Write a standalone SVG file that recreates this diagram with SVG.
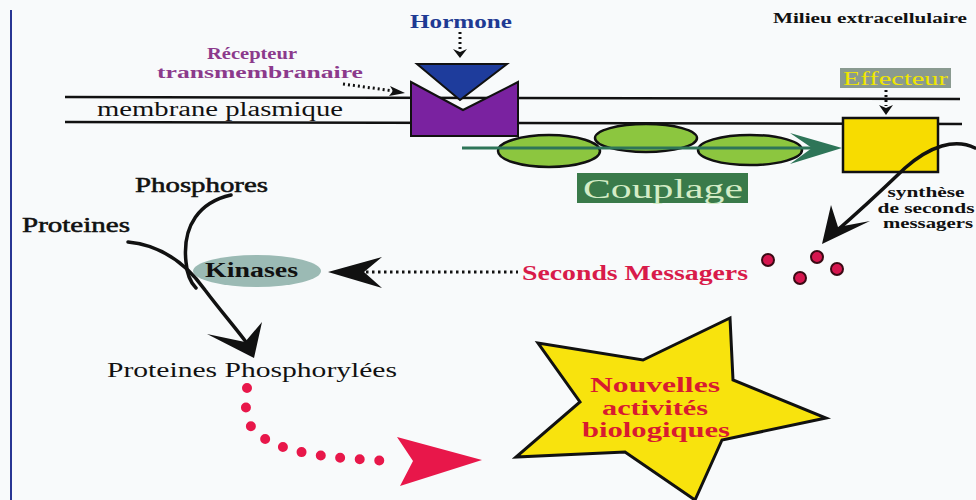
<svg xmlns="http://www.w3.org/2000/svg" width="976" height="500" viewBox="0 0 976 500">
<style>
.t{font-family:"Liberation Serif","Times New Roman",serif;}
.b{font-weight:bold;}
.blk{fill:#111;}
.semi{stroke:#111;stroke-width:0.5;}
.mem{stroke:#111;stroke-width:2.5;fill:none;}
.dot{stroke:#111;stroke-width:3;stroke-dasharray:2 3;fill:none;}
.ell{fill:#8cc63f;stroke:#111;stroke-width:2.5;}
.rd{fill:#d6164f;stroke:#3a0a14;stroke-width:2;}
.curve{stroke:#111;stroke-width:3.5;fill:none;stroke-linecap:round;}
</style>
<rect width="976" height="500" fill="#f8fafb"/>
<line x1="11" y1="10" x2="11" y2="500" stroke="#283593" stroke-width="2"/>

<g id="milieu"><text class="t b blk" x="773" y="23" font-size="14" textLength="194" lengthAdjust="spacingAndGlyphs">Milieu extracellulaire</text></g>

<g id="membrane">
<line class="mem" x1="65" y1="97" x2="960" y2="99"/>
<line class="mem" x1="65" y1="122" x2="962" y2="124"/>
<text class="t blk" x="97" y="116" font-size="20" textLength="246" lengthAdjust="spacingAndGlyphs">membrane plasmique</text>
</g>

<g id="hormone">
<text class="t b" x="410" y="28" font-size="18" fill="#1f3a93" textLength="102" lengthAdjust="spacingAndGlyphs">Hormone</text>
<path d="M417,64 L507,64 L460,100 Z" fill="#1e3c9c" stroke="#111" stroke-width="2"/>
</g>

<g id="recepteur">
<text class="t b" x="207" y="59" font-size="17" fill="#8c3a8c" textLength="90" lengthAdjust="spacingAndGlyphs">Récepteur</text>
<text class="t b" x="157" y="78" font-size="17" fill="#8c3a8c" textLength="206" lengthAdjust="spacingAndGlyphs">transmembranaire</text>
<path d="M411,82 L463,110 L518,82 L518,136 L411,136 Z" fill="#7a22a0" stroke="#111" stroke-width="2"/>
</g>

<g id="couplage">
<ellipse class="ell" cx="549" cy="151" rx="51" ry="16"/>
<ellipse class="ell" cx="750" cy="150" rx="52" ry="15"/>
<ellipse class="ell" cx="646" cy="138" rx="51" ry="14"/>
<rect x="577" y="173" width="171" height="30" fill="#3a7a4a"/>
<text class="t" x="583" y="198" font-size="27" fill="#d4ecc6" textLength="160" lengthAdjust="spacingAndGlyphs">Couplage</text>
</g>

<g id="effecteur">
<rect x="840" y="68" width="111" height="20" fill="#8a9a90"/>
<text class="t" x="843" y="85" font-size="19" fill="#f0e600" textLength="105" lengthAdjust="spacingAndGlyphs">Effecteur</text>
<rect x="843" y="118" width="95" height="54" fill="#f7dc00" stroke="#111" stroke-width="2.5"/>
</g>

<g id="synthese">
<text class="t b blk" x="926" y="197" font-size="14" text-anchor="middle" textLength="77" lengthAdjust="spacingAndGlyphs">synthèse</text>
<text class="t b blk" x="926" y="213" font-size="14" text-anchor="middle" textLength="97" lengthAdjust="spacingAndGlyphs">de seconds</text>
<text class="t b blk" x="928" y="228" font-size="14" text-anchor="middle" textLength="90" lengthAdjust="spacingAndGlyphs">messagers</text>
</g>

<g id="seconds-messagers">
<circle class="rd" cx="768" cy="260" r="6"/>
<circle class="rd" cx="817" cy="257" r="6"/>
<circle class="rd" cx="837" cy="269" r="6"/>
<circle class="rd" cx="800" cy="278" r="6"/>
<text class="t b" x="522" y="280" font-size="20" fill="#d81b4a" textLength="226" lengthAdjust="spacingAndGlyphs">Seconds Messagers</text>
</g>

<g id="kinases">
<ellipse cx="257" cy="271" rx="64" ry="16" fill="#9bbab4"/>
<text class="t b blk" x="205" y="277" font-size="20" textLength="93" lengthAdjust="spacingAndGlyphs">Kinases</text>
</g>

<g id="phosphores"><text class="t blk semi" x="135" y="192" font-size="20" textLength="133" lengthAdjust="spacingAndGlyphs">Phosphores</text></g>
<g id="proteines"><text class="t blk semi" x="22" y="232" font-size="20" textLength="108" lengthAdjust="spacingAndGlyphs">Proteines</text></g>
<g id="proteines-phosphorylees"><text class="t blk" x="107" y="377" font-size="20" textLength="290" lengthAdjust="spacingAndGlyphs">Proteines Phosphorylées</text></g>

<g id="nouvelles-activites">
<polygon points="730,318 733,380 826,418 722,440 695,500 625,452 516,457 580,402 538,343 643,360" fill="#f8e30d" stroke="#111" stroke-width="3" stroke-linejoin="miter"/>
<text class="t b" x="590" y="392" font-size="20" fill="#d81b30" textLength="130" lengthAdjust="spacingAndGlyphs">Nouvelles</text>
<text class="t b" x="602" y="415" font-size="20" fill="#d81b30" textLength="106" lengthAdjust="spacingAndGlyphs">activités</text>
<text class="t b" x="582" y="437" font-size="20" fill="#d81b30" textLength="148" lengthAdjust="spacingAndGlyphs">biologiques</text>
</g>

<g id="connectors">
<!-- hormone -> receptor -->
<line class="dot" x1="460" y1="32" x2="460" y2="50"/>
<path d="M453,49 L460,52 L467,49 L460,58 Z" fill="#111"/>
<!-- label -> receptor -->
<line class="dot" x1="343" y1="84" x2="394" y2="91"/>
<path d="M390,86 L405,93 L389,96 L393,91 Z" fill="#111"/>
<!-- effecteur label -> box -->
<line class="dot" x1="886" y1="90" x2="886" y2="106"/>
<path d="M879,105 L886,108 L893,105 L886,115 Z" fill="#111"/>
<!-- coupling arrow -->
<line x1="462" y1="148" x2="815" y2="148" stroke="#2e7558" stroke-width="3"/>
<path d="M790,133 L842,148 L790,164 L812,148 Z" fill="#2e7558"/>
<!-- synthesis curve -->
<path class="curve" d="M975,148 C955,138 930,146 905,168 C880,192 855,215 833,234"/>
<path d="M822,244 L831,205 L838,227 L870,221 Z" fill="#111"/>
<!-- seconds messagers -> kinases -->
<line x1="366" y1="272" x2="518" y2="272" stroke="#111" stroke-width="3" stroke-dasharray="2.5 3.5"/>
<path d="M328,272 L382,257 L364,272 L382,288 Z" fill="#111"/>
<!-- phosphores / proteines curves -->
<path class="curve" d="M231,195 C200,202 182,225 186,262 C187,275 190,282 196,288"/>
<path class="curve" d="M128,242 C160,245 185,262 205,290 C220,310 234,326 246,342"/>
<path d="M254,358 L207,334 L245,342 L262,322 Z" fill="#111"/>
<!-- phosphorylated proteins -> new activities -->
<path d="M247,388 C244,410 246,428 262,437 C285,452 320,458 392,461" fill="none" stroke="#e8174a" stroke-width="10" stroke-linecap="round" stroke-dasharray="0 19.5"/>
<path d="M482,460 L397,437 L413,461 L400,486 Z" fill="#e8174a"/>
</g>
</svg>
